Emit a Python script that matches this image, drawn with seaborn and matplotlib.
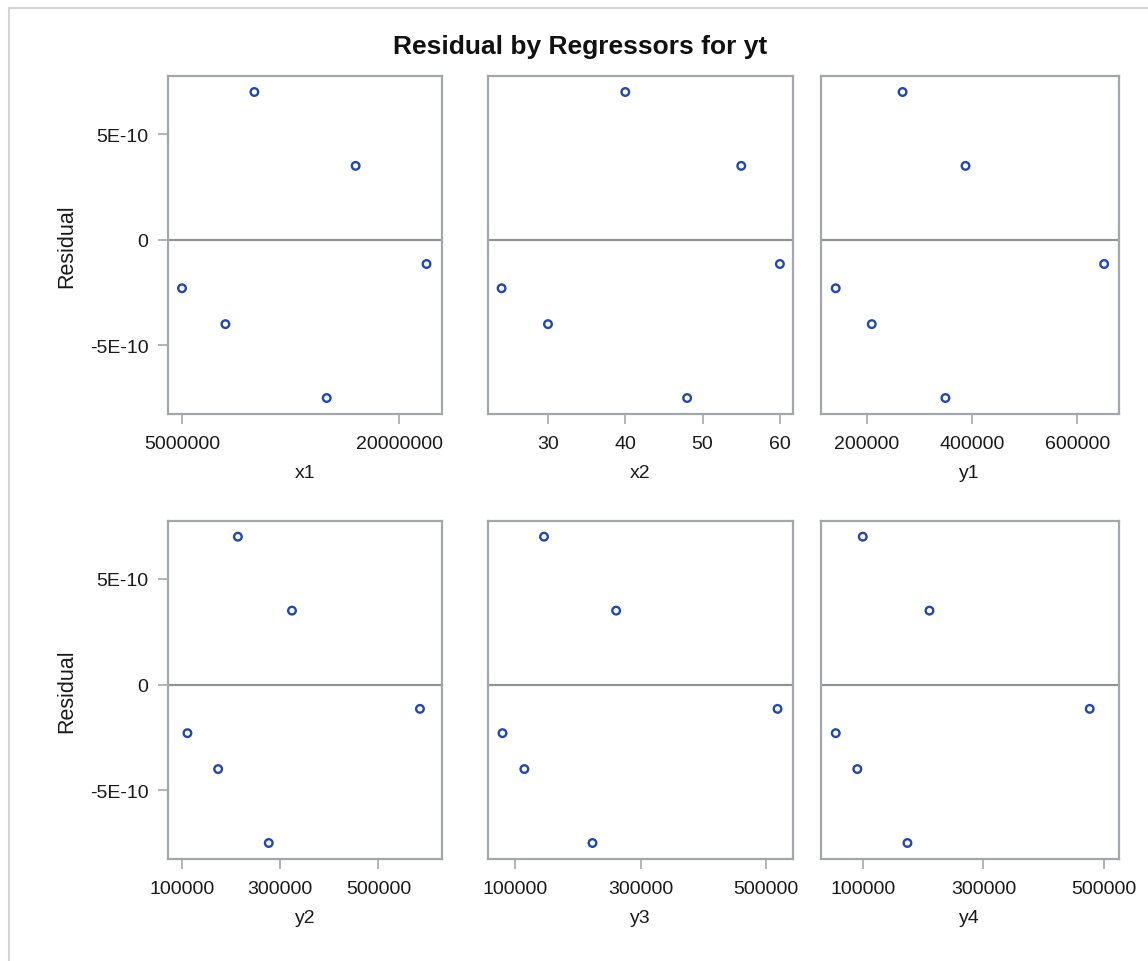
import matplotlib
matplotlib.use("Agg")
import matplotlib.pyplot as plt
from matplotlib.lines import Line2D
from matplotlib.ticker import FixedLocator, FixedFormatter
import numpy as np
import pandas as pd
import seaborn as sns

# Regressor values for the six observations
x1 = [5.0e6, 8.0e6, 10.0e6, 15.0e6, 17.0e6, 21.9e6]
x2 = [24, 30, 40, 48, 55, 60]
y1 = [141000, 209500, 268000, 349400, 387500, 650700]
y2 = [111000, 173500, 213700, 276600, 323900, 584500]
y3 = [79500, 114400, 145800, 223200, 261000, 518800]
y4 = [55200, 91000, 100000, 174000, 210500, 476000]
residual = [-2.3e-10, -4.0e-10, 7.0e-10, -7.5e-10, 3.5e-10, -1.15e-10]

regressors = ["x1", "x2", "y1", "y2", "y3", "y4"]
x_ticks = {
    "x1": [5000000, 20000000],
    "x2": [30, 40, 50, 60],
    "y1": [200000, 400000, 600000],
    "y2": [100000, 300000, 500000],
    "y3": [100000, 300000, 500000],
    "y4": [100000, 300000, 500000],
}
# horizontal axis ranges of each panel
x_limits = {
    "x1": (4.03e6, 22.97e6),
    "x2": (22.28, 61.63),
    "y1": (113100, 678000),
    "y2": (71400, 629400),
    "y3": (56800, 542700),
    "y4": (30800, 523700),
}
y_ticks = [-5e-10, 0, 5e-10]
y_tick_labels = ["-5E-10", "0", "5E-10"]
title = "Residual by Regressors for yt"
y_label = "Residual"

df = pd.DataFrame({"x1": x1, "x2": x2, "y1": y1, "y2": y2, "y3": y3, "y4": y4,
                   "Residual": residual})

sns.set_theme(style="white")
plt.rcParams["font.family"] = ["Liberation Sans", "DejaVu Sans"]

W, H = 1148, 962
fig = plt.figure(figsize=(W / 100, H / 100), dpi=100)

frame_col = "#a3a7ab"
text_col = "#1a1a1a"
mark_col = "#2149ad"

# panel boxes in pixel coordinates (left, right) and (top, bottom)
cols = [(168, 442), (488.3, 792.5), (821, 1118.5)]
rows = [(77, 415), (521.7, 860)]

def px_axes(l, r, t, b):
    return fig.add_axes([l / W, 1 - b / H, (r - l) / W, (b - t) / H])

rmin, rmax = min(residual), max(residual)
for i, name in enumerate(regressors):
    ri, ci = divmod(i, 3)
    (l, r), (t, b) = cols[ci], rows[ri]
    ax = px_axes(l, r, t, b)
    ax.axhline(0, color="#8f9396", lw=1.6, zorder=1)
    sns.scatterplot(data=df, x=name, y="Residual", ax=ax, marker="o",
                    s=30, facecolor="none", edgecolor=mark_col,
                    linewidth=1.7, zorder=3, legend=False)

    ax.set_xlim(*x_limits[name])
    my = 16 / ((b - t) - 32)
    yr = rmax - rmin
    ax.set_ylim(rmin - my * yr, rmax + my * yr)

    ax.xaxis.set_major_locator(FixedLocator(x_ticks[name]))
    ax.xaxis.set_major_formatter(FixedFormatter([str(v) for v in x_ticks[name]]))
    ax.yaxis.set_major_locator(FixedLocator(y_ticks))
    ax.tick_params(axis="both", direction="out", length=7, width=1.2,
                   color=frame_col, labelsize=14, labelcolor=text_col)
    ax.tick_params(axis="x", bottom=True, pad=8)
    if ci == 0:
        ax.yaxis.set_major_formatter(FixedFormatter(y_tick_labels))
        ax.set_ylabel(y_label, fontsize=15.5, color=text_col, labelpad=9)
        ax.tick_params(axis="y", left=True, labelleft=True, pad=7)
    else:
        ax.set_ylabel("")
        ax.tick_params(axis="y", left=False, labelleft=False)
    ax.set_xlabel(name, fontsize=14, color=text_col, labelpad=9)

    for sp in ax.spines.values():
        sp.set_visible(True)
        sp.set_color(frame_col)
        sp.set_linewidth(1.6)
    ax.set_facecolor("white")

fig.text(580 / W, 1 - 47 / H, title, ha="center", va="center",
         fontsize=19, fontweight="bold", color="#111111")

# outer border of the graph area
fig.add_artist(Line2D([8.5 / W, 8.5 / W], [0, 1 - 9 / H], transform=fig.transFigure,
                      color="#d4d4d4", lw=1.5))
fig.add_artist(Line2D([8.5 / W, 1], [1 - 9 / H, 1 - 9 / H], transform=fig.transFigure,
                      color="#d4d4d4", lw=1.5))

fig.savefig("out.png", dpi=100, facecolor="white")
